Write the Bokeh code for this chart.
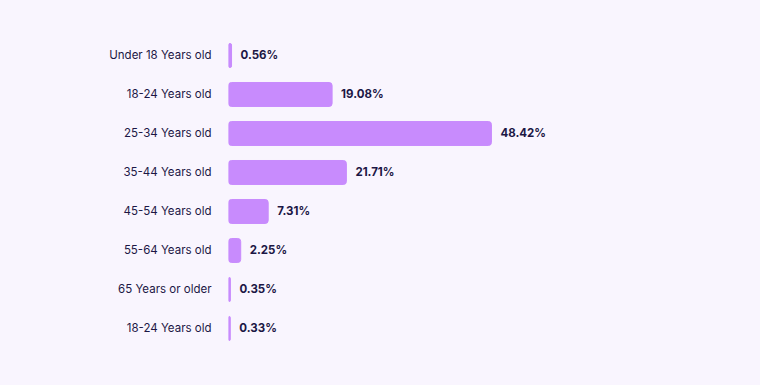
from bokeh.plotting import figure
from bokeh.models import Range1d, ColumnDataSource, FixedTicker
from bokeh.core.properties import value
from bokeh.embed import file_html
from bokeh.resources import INLINE

categories = ["Under 18 Years old", "18-24 Years old", "25-34 Years old", "35-44 Years old",
              "45-54 Years old", "55-64 Years old", "65 Years or older", "18-24 Years old"]
shares = [0.56, 19.08, 48.42, 21.71, 7.31, 2.25, 0.35, 0.33]

BG = "#f9f5fe"
BAR = "#c88bfd"
TXT = "#1c1745"

pos = list(range(len(categories)))
src = ColumnDataSource(dict(y=pos, v=shares, lab=[f"{s:.2f}%" for s in shares]))

p = figure(width=760, height=385, output_backend="svg", toolbar_location=None,
           x_range=Range1d(0, 97.97), y_range=Range1d(8.462, -1.410),
           min_border_left=228, min_border_right=0, min_border_top=0, min_border_bottom=0,
           background_fill_color=BG, border_fill_color=BG, outline_line_color=None)

p.hbar(y="y", left=0, right="v", height=0.615, source=src, fill_color=BAR,
       line_color=BAR, line_width=1, border_radius=3)
p.text(x="v", y="y", text="lab", source=src, x_offset=9, text_baseline="middle",
       text_align="left", text_font=value("Inter"), text_font_size="11.5px",
       text_font_style="bold", text_color=TXT)

p.xaxis.visible = False
p.xgrid.visible = False
p.ygrid.visible = False
ax = p.yaxis[0]
ax.ticker = FixedTicker(ticks=pos)
ax.major_label_overrides = {i: c for i, c in enumerate(categories)}
ax.axis_line_color = None
ax.major_tick_line_color = None
ax.minor_tick_line_color = None
ax.major_tick_out = 0
ax.major_tick_in = 0
ax.major_label_standoff = 17
ax.major_label_text_font = "Inter"
ax.major_label_text_font_size = "11.5px"
ax.major_label_text_color = TXT

html = file_html(p, INLINE)
html = html.replace("<body>", f'<body style="background:{BG};">')
open("out.html", "w").write(html)
